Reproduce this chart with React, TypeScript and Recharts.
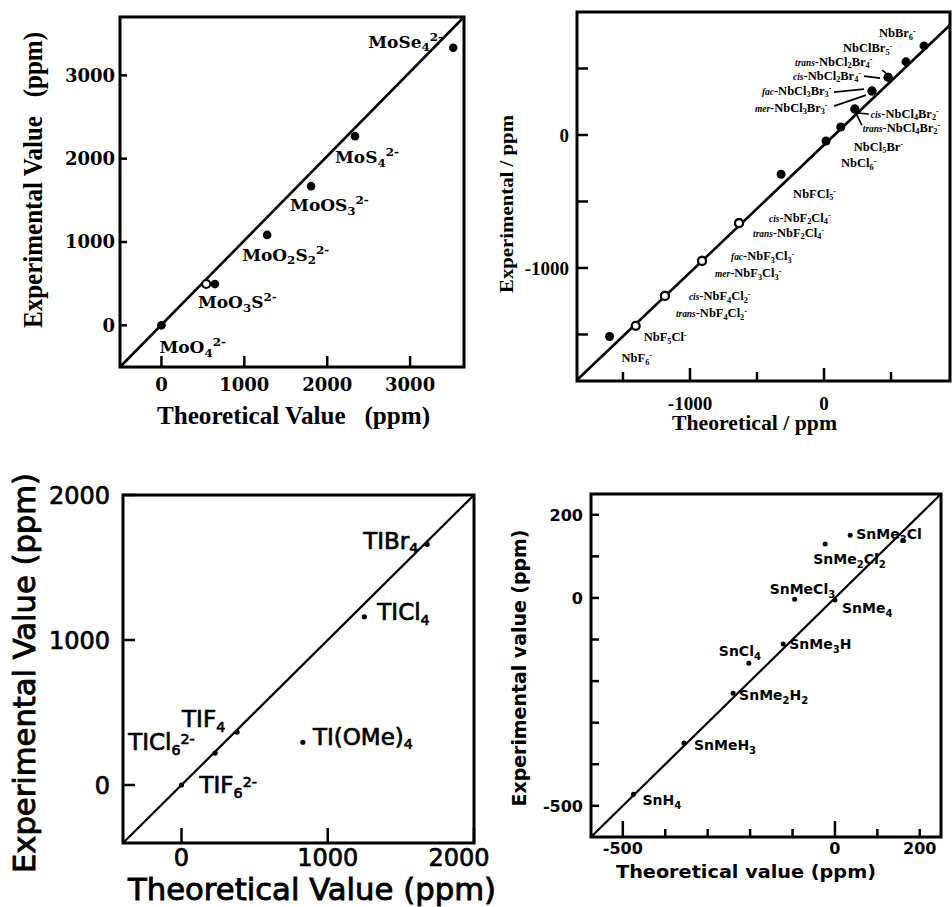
import React from 'react';
import { ScatterChart, Scatter, XAxis, YAxis, ReferenceLine, ReferenceArea, Label } from 'recharts';

// ================= DATA =================
// Panel A: 95Mo
const moCompounds = ['MoO_{4}^{2-}', 'MoO_{3}S^{2-}', 'MoO_{2}S_{2}^{2-}', 'MoOS_{3}^{2-}', 'MoS_{4}^{2-}', 'MoSe_{4}^{2-}'];
const moTheoretical = [0, 645, 1275, 1805, 2335, 3520];
const moExperimental = [0, 495, 1085, 1670, 2270, 3330];
const moOpenTheoretical = [540];
const moOpenExperimental = [495];
const moXTicks = [0, 1000, 2000, 3000];
const moYTicks = [0, 1000, 2000, 3000];

// Panel B: 93Nb
const nbFilledCompounds = ['NbF_{6}^{-}', 'NbFCl_{5}^{-}', 'NbCl_{6}^{-}', 'NbCl_{5}Br^{-}', '*{cis}-NbCl_{4}Br_{2}^{-}', '*{trans}-NbCl_{4}Br_{2}^{-}', '*{fac}-NbCl_{3}Br_{3}^{-}', '*{mer}-NbCl_{3}Br_{3}^{-}', '*{cis}-NbCl_{2}Br_{4}^{-}', '*{trans}-NbCl_{2}Br_{4}^{-}', 'NbClBr_{5}^{-}', 'NbBr_{6}^{-}'];
const nbFilledTheoretical = [-1600, -320, 15, 125, 230, 230, 358, 358, 478, 478, 612, 746];
const nbFilledExperimental = [-1515, -295, -45, 60, 195, 195, 330, 330, 435, 435, 550, 670];
const nbOpenCompounds = ['NbF_{5}Cl^{-}', '*{cis}-NbF_{4}Cl_{2}^{-}', '*{trans}-NbF_{4}Cl_{2}^{-}', '*{fac}-NbF_{3}Cl_{3}^{-}', '*{mer}-NbF_{3}Cl_{3}^{-}', '*{cis}-NbF_{2}Cl_{4}^{-}', '*{trans}-NbF_{2}Cl_{4}^{-}'];
const nbOpenTheoretical = [-1405, -1187, -1187, -910, -910, -634, -634];
const nbOpenExperimental = [-1435, -1210, -1210, -947, -947, -662, -662];
const nbXTicks = [-1500, -1000, -500, 0, 500];
const nbYTicks = [-1500, -1000, -500, 0, 500];
const nbLabeledTicks = [-1000, 0];
const nbFitLine = [[-1843, -1842], [940, 827]];

// Panel C: 49Ti
const tiCompounds = ['TIF_{6}^{2-}', 'TICl_{6}^{2-}', 'TIF_{4}', 'TI(OMe)_{4}', 'TICl_{4}', 'TIBr_{4}'];
const tiTheoretical = [0, 230, 380, 830, 1250, 1680];
const tiExperimental = [0, 220, 365, 295, 1160, 1660];
const tiXTicks = [0, 1000, 2000];
const tiYTicks = [0, 1000, 2000];

// Panel D: 119Sn
const snCompounds = ['SnH_{4}', 'SnMeH_{3}', 'SnMe_{2}H_{2}', 'SnCl_{4}', 'SnMe_{3}H', 'SnMeCl_{3}', 'SnMe_{4}', 'SnMe_{2}Cl_{2}', 'SnMe_{3}Cl', ''];
const snTheoretical = [-475, -356, -240, -203, -122, -95, 0, -23, 36, 160];
const snExperimental = [-472, -349, -229, -157, -111, -3, -5, 130, 151, 139];
const snTicks = [-500, -400, -300, -200, -100, 0, 100, 200];
const snLabeledTicks = [-500, 0, 200];

// ================= LAYOUT (label offsets in px, relative to marker) =================
const moLabelOffsets = [[-2, 22], [-17, 18], [-25, 20], [-21, 19], [-20, 21], [-85, -6]];
const nbFilledLabelOffsets = [[12, 21], [12, 19], [15, 22], [13, 19], [16, 4], [8, 18], [-110, -1], [-117, 16], [-95, -2], [-93, -16], [-63, -14], [-45, -13]];
const nbFilledLeaders: (number[] | null)[] = [null, null, null, null, [3, 4, 14, 5], [2, 6, 7, 16], [-38, 1, -8, -2], [-38, 15, -6, 4], [-24, -1, -8, 1], [-6, -7, -2, -4], null, null];
const nbOpenLabelOffsets = [[8, 11], [24, 0], [11, 17], [29, -5], [13, 12], [30, -6], [14, 9]];
const tiLabelOffsets = [[18, 0], [-87, -11], [-55, -13], [10, -6], [13, -5], [-64, -4]];
const snLabelOffsets = [[9, 6], [10, 2], [6, 2], [-30, -12], [6, 0], [-25, -10], [7, 8], [-12, 15], [6, -1], [0, 0]];

// ================= HELPERS =================
type FontCfg = { family: string; size: number; weight: number; sub?: number; sup?: number; script?: number; pre?: number; stroke?: number };
type Seg = { t: string; k: 'n' | 'sub' | 'sup' | 'pre' };

function parseRich(s: string): Seg[] {
  const out: Seg[] = [];
  const re = /([_^*])\{([^}]*)\}/g;
  let last = 0;
  let m: RegExpExecArray | null;
  while ((m = re.exec(s))) {
    if (m.index > last) out.push({ t: s.slice(last, m.index), k: 'n' });
    out.push({ t: m[2], k: m[1] === '_' ? 'sub' : m[1] === '^' ? 'sup' : 'pre' });
    last = re.lastIndex;
  }
  if (last < s.length) out.push({ t: s.slice(last), k: 'n' });
  return out;
}

function strokeProps(f: FontCfg) {
  return f.stroke ? { stroke: '#000', strokeWidth: f.stroke } : {};
}

function RichText({ x, y, text, f }: { x: number; y: number; text: string; f: FontCfg }) {
  const segs = parseRich(text);
  let shift = 0;
  return (
    <text x={x} y={y} fontFamily={f.family} fontSize={f.size} fontWeight={f.weight} fill="#000" style={{ whiteSpace: 'pre' }} {...strokeProps(f)}>
      {segs.map((s, i) => {
        const target = s.k === 'sub' ? f.size * (f.sub ?? 0.25) : s.k === 'sup' ? -f.size * (f.sup ?? 0.4) : 0;
        const dy = target - shift;
        shift = target;
        const fs = s.k === 'n' ? f.size : s.k === 'pre' ? f.size * (f.pre ?? 0.8) : f.size * (f.script ?? 0.7);
        return (
          <tspan key={i} dy={dy} fontSize={fs} fontStyle={s.k === 'pre' ? 'italic' : undefined}>
            {s.t}
          </tspan>
        );
      })}
    </text>
  );
}

type Row = { x: number; y: number; label: string; dx: number; dy: number; leader: number[] | null };

function buildRows(xs: number[], ys: number[], names?: string[], offs?: number[][], leaders?: (number[] | null)[]): Row[] {
  return xs.map((x, i) => ({
    x,
    y: ys[i],
    label: names ? names[i] : '',
    dx: offs ? offs[i][0] : 0,
    dy: offs ? offs[i][1] : 0,
    leader: leaders ? leaders[i] : null,
  }));
}

function makeShape(r: number, fill: string, stroke: string, sw: number, f: FontCfg) {
  return (p: any) => {
    const { cx, cy, payload } = p;
    if (cx == null || cy == null) return <g />;
    const row = payload as Row;
    return (
      <g>
        {row.leader && (
          <line x1={cx + row.leader[0]} y1={cy + row.leader[1]} x2={cx + row.leader[2]} y2={cy + row.leader[3]} stroke="#000" strokeWidth={1.6} />
        )}
        <circle cx={cx} cy={cy} r={r} fill={fill} stroke={stroke} strokeWidth={sw} />
        {row.label && <RichText x={cx + row.dx} y={cy + row.dy + f.size * 0.36} text={row.label} f={f} />}
      </g>
    );
  };
}

type TickCfg = { labeled: number[]; major: number[]; majorLen: number; minorLen: number; gap: number; f: FontCfg; sw: number; shift?: Record<number, number> };

function makeXTick(c: TickCfg) {
  return (p: any) => {
    const { x, y, payload } = p;
    const v = payload.value as number;
    const len = c.major.includes(v) ? c.majorLen : c.minorLen;
    return (
      <g>
        <line x1={x} y1={y} x2={x} y2={y - len} stroke="#000" strokeWidth={c.sw} />
        {c.labeled.includes(v) && (
          <text x={x + ((c.shift && c.shift[v]) || 0)} y={y + c.gap + c.f.size * 0.36} textAnchor="middle" fontFamily={c.f.family} fontSize={c.f.size} fontWeight={c.f.weight} fill="#000" {...strokeProps(c.f)}>
            {String(v)}
          </text>
        )}
      </g>
    );
  };
}

function makeYTick(c: TickCfg) {
  return (p: any) => {
    const { x, y, payload } = p;
    const v = payload.value as number;
    const len = c.major.includes(v) ? c.majorLen : c.minorLen;
    return (
      <g>
        <line x1={x} y1={y} x2={x + len} y2={y} stroke="#000" strokeWidth={c.sw} />
        {c.labeled.includes(v) && (
          <text x={x - c.gap} y={y + c.f.size * 0.36} textAnchor="end" fontFamily={c.f.family} fontSize={c.f.size} fontWeight={c.f.weight} fill="#000" {...strokeProps(c.f)}>
            {String(v)}
          </text>
        )}
      </g>
    );
  };
}

type TitleCfg = { text: string; x: number; y: number; length: number; f: FontCfg; rotate?: boolean };

function titleEl(t: TitleCfg, ox: number, oy: number) {
  const x = t.x - ox;
  const y = t.y - oy;
  return (
    <text
      x={x}
      y={y}
      transform={t.rotate ? `rotate(-90 ${x} ${y})` : undefined}
      textAnchor={t.rotate ? 'middle' : 'start'}
      textLength={t.length}
      lengthAdjust="spacingAndGlyphs"
      fontFamily={t.f.family}
      fontSize={t.f.size}
      fontWeight={t.f.weight}
      fill="#000"
      style={{ whiteSpace: 'pre' }}
      {...strokeProps(t.f)}
    >
      {t.text}
    </text>
  );
}

type SeriesCfg = { name: string; data: Row[]; shape: (p: any) => React.ReactElement };

function Panel(props: {
  box: number[];
  plot: number[];
  xDomain: number[];
  yDomain: number[];
  xTicks: number[];
  yTicks: number[];
  xTick: (p: any) => React.ReactElement;
  yTick: (p: any) => React.ReactElement;
  line: number[][];
  lineWidth: number;
  frameWidth: number;
  series: SeriesCfg[];
  xTitle: TitleCfg;
  yTitle: TitleCfg;
}) {
  const [ox, oy, w, h] = props.box;
  const [l, t, r, b] = props.plot;
  const YW = 40;
  const XH = 30;
  const margin = { left: l - ox - YW, top: t - oy, right: ox + w - r, bottom: oy + h - b - XH };
  return (
    <div style={{ position: 'absolute', left: ox, top: oy, width: w, height: h }}>
      <ScatterChart width={w} height={h} margin={margin}>
        <XAxis
          type="number"
          dataKey="x"
          domain={props.xDomain}
          ticks={props.xTicks}
          interval={0}
          tickSize={0}
          tickMargin={0}
          axisLine={false}
          tickLine={false}
          tick={props.xTick}
          height={XH}
        >
          <Label value=" " content={() => titleEl(props.xTitle, ox, oy)} />
        </XAxis>
        <YAxis
          type="number"
          dataKey="y"
          domain={props.yDomain}
          ticks={props.yTicks}
          interval={0}
          tickSize={0}
          tickMargin={0}
          axisLine={false}
          tickLine={false}
          tick={props.yTick}
          width={YW}
        >
          <Label value=" " content={() => titleEl(props.yTitle, ox, oy)} />
        </YAxis>
        <ReferenceArea
          x1={props.xDomain[0]}
          x2={props.xDomain[1]}
          y1={props.yDomain[0]}
          y2={props.yDomain[1]}
          fill="none"
          fillOpacity={0}
          stroke="#000"
          strokeWidth={props.frameWidth}
          ifOverflow="visible"
        />
        <ReferenceLine
          segment={[{ x: props.line[0][0], y: props.line[0][1] }, { x: props.line[1][0], y: props.line[1][1] }]}
          stroke="#000"
          strokeWidth={props.lineWidth}
          ifOverflow="visible"
        />
        {props.series.map((s) => (
          <Scatter key={s.name} name={s.name} data={s.data} shape={s.shape} isAnimationActive={false} />
        ))}
      </ScatterChart>
    </div>
  );
}

// ================= FONTS =================
const fMoLab: FontCfg = { family: 'DejaVu Serif', size: 17, weight: 700, sub: 0.2, sup: 0.42, script: 0.7 };
const fMoTick: FontCfg = { family: 'DejaVu Serif', size: 18, weight: 700 };
const fMoTitle: FontCfg = { family: 'Liberation Serif', size: 26, weight: 700 };
const fNbLab: FontCfg = { family: 'Liberation Serif', size: 12.5, weight: 700, sub: 0.22, sup: 0.28, script: 0.66, pre: 0.75 };
const fNbTick: FontCfg = { family: 'Liberation Serif', size: 19, weight: 700 };
const fNbTitle: FontCfg = { family: 'Liberation Serif', size: 20, weight: 700 };
const fTiLab: FontCfg = { family: 'DejaVu Sans', size: 23, weight: 400, sub: 0.2, sup: 0.28, script: 0.62, stroke: 0.7 };
const fTiTick: FontCfg = { family: 'DejaVu Sans', size: 24, weight: 400, stroke: 0.7 };
const fTiTitle: FontCfg = { family: 'DejaVu Sans', size: 30, weight: 400, stroke: 0.9 };
const fSnLab: FontCfg = { family: 'DejaVu Sans', size: 14, weight: 700, sub: 0.3, sup: 0.4, script: 0.72 };
const fSnTick: FontCfg = { family: 'DejaVu Sans', size: 16, weight: 700 };
const fSnTitle: FontCfg = { family: 'DejaVu Sans', size: 18, weight: 700 };

export default function App() {
  const moDomX = [-500, 3650];
  const moDomY = [-500, 3700];
  const nbDomX = [-1843, 940];
  const nbDomY = [-1850, 925];
  const tiDom = [-400, 2000];
  const snDom = [-575, 250];

  return (
    <div style={{ position: 'absolute', left: 0, top: 0, width: 952, height: 907, background: '#fff', overflow: 'hidden' }}>
      <Panel
        box={[0, 0, 476, 450]}
        plot={[120, 17, 464, 367]}
        xDomain={moDomX}
        yDomain={moDomY}
        xTicks={moXTicks}
        yTicks={moYTicks}
        xTick={makeXTick({ labeled: moXTicks, major: moXTicks, majorLen: 11, minorLen: 11, gap: 18, f: fMoTick, sw: 2.5 })}
        yTick={makeYTick({ labeled: moYTicks, major: moYTicks, majorLen: 7, minorLen: 7, gap: 5, f: fMoTick, sw: 2.5 })}
        line={[[moDomX[0], moDomY[0]], [moDomX[1], moDomY[1]]]}
        lineWidth={2.6}
        frameWidth={3}
        series={[
          { name: 'open', data: buildRows(moOpenTheoretical, moOpenExperimental), shape: makeShape(4, '#fff', '#000', 2, fMoLab) },
          { name: 'filled', data: buildRows(moTheoretical, moExperimental, moCompounds, moLabelOffsets), shape: makeShape(4.3, '#000', '#000', 0, fMoLab) },
        ]}
        xTitle={{ text: 'Theoretical Value   (ppm)', x: 157, y: 424, length: 273, f: fMoTitle }}
        yTitle={{ text: 'Experimental Value   (ppm)', x: 42, y: 180, length: 296, f: { ...fMoTitle, size: 27 }, rotate: true }}
      />
      <Panel
        box={[476, 0, 476, 450]}
        plot={[577, 12, 950, 381]}
        xDomain={nbDomX}
        yDomain={nbDomY}
        xTicks={nbXTicks}
        yTicks={nbYTicks}
        xTick={makeXTick({ labeled: nbLabeledTicks, major: nbLabeledTicks, majorLen: 13, minorLen: 9, gap: 22, f: fNbTick, sw: 2.5 })}
        yTick={makeYTick({ labeled: nbLabeledTicks, major: nbYTicks, majorLen: 11, minorLen: 11, gap: 8, f: fNbTick, sw: 2.5 })}
        line={nbFitLine}
        lineWidth={2.6}
        frameWidth={3}
        series={[
          { name: 'filled', data: buildRows(nbFilledTheoretical, nbFilledExperimental, nbFilledCompounds, nbFilledLabelOffsets, nbFilledLeaders), shape: makeShape(4.5, '#000', '#000', 0, fNbLab) },
          { name: 'open', data: buildRows(nbOpenTheoretical, nbOpenExperimental, nbOpenCompounds, nbOpenLabelOffsets), shape: makeShape(4, '#fff', '#000', 2.2, fNbLab) },
        ]}
        xTitle={{ text: 'Theoretical / ppm', x: 672, y: 430, length: 165, f: fNbTitle }}
        yTitle={{ text: 'Experimental / ppm', x: 513, y: 204, length: 178, f: { ...fNbTitle, size: 19 }, rotate: true }}
      />
      <Panel
        box={[0, 450, 530, 457]}
        plot={[123, 495, 474, 843]}
        xDomain={tiDom}
        yDomain={tiDom}
        xTicks={tiXTicks}
        yTicks={tiYTicks}
        xTick={makeXTick({ labeled: tiXTicks, major: tiXTicks, majorLen: 15, minorLen: 15, gap: 14, f: fTiTick, sw: 2.5, shift: { 2000: -15 } })}
        yTick={makeYTick({ labeled: tiYTicks, major: tiYTicks, majorLen: 12, minorLen: 12, gap: 13, f: fTiTick, sw: 2.5 })}
        line={[[tiDom[0], tiDom[0]], [tiDom[1], tiDom[1]]]}
        lineWidth={2.2}
        frameWidth={3}
        series={[{ name: 'Ti', data: buildRows(tiTheoretical, tiExperimental, tiCompounds, tiLabelOffsets), shape: makeShape(2.6, '#000', '#000', 0, fTiLab) }]}
        xTitle={{ text: 'Theoretical Value (ppm)', x: 128, y: 900, length: 368, f: fTiTitle }}
        yTitle={{ text: 'Experimental Value (ppm)', x: 35, y: 673, length: 400, f: fTiTitle, rotate: true }}
      />
      <Panel
        box={[476, 450, 476, 457]}
        plot={[591, 494, 941, 837]}
        xDomain={snDom}
        yDomain={snDom}
        xTicks={snTicks}
        yTicks={snTicks}
        xTick={makeXTick({ labeled: snLabeledTicks, major: [-500, 0], majorLen: 16, minorLen: 8, gap: 11, f: fSnTick, sw: 2.5 })}
        yTick={makeYTick({ labeled: snLabeledTicks, major: snTicks, majorLen: 8, minorLen: 8, gap: 8, f: fSnTick, sw: 2.5 })}
        line={[[snDom[0], snDom[0]], [snDom[1], snDom[1]]]}
        lineWidth={2.2}
        frameWidth={3}
        series={[{ name: 'Sn', data: buildRows(snTheoretical, snExperimental, snCompounds, snLabelOffsets), shape: makeShape(2.5, '#000', '#000', 0, fSnLab) }]}
        xTitle={{ text: 'Theoretical value (ppm)', x: 616, y: 878, length: 260, f: fSnTitle }}
        yTitle={{ text: 'Experimental value (ppm)', x: 526, y: 668, length: 277, f: { ...fSnTitle, size: 19 }, rotate: true }}
      />
    </div>
  );
}
